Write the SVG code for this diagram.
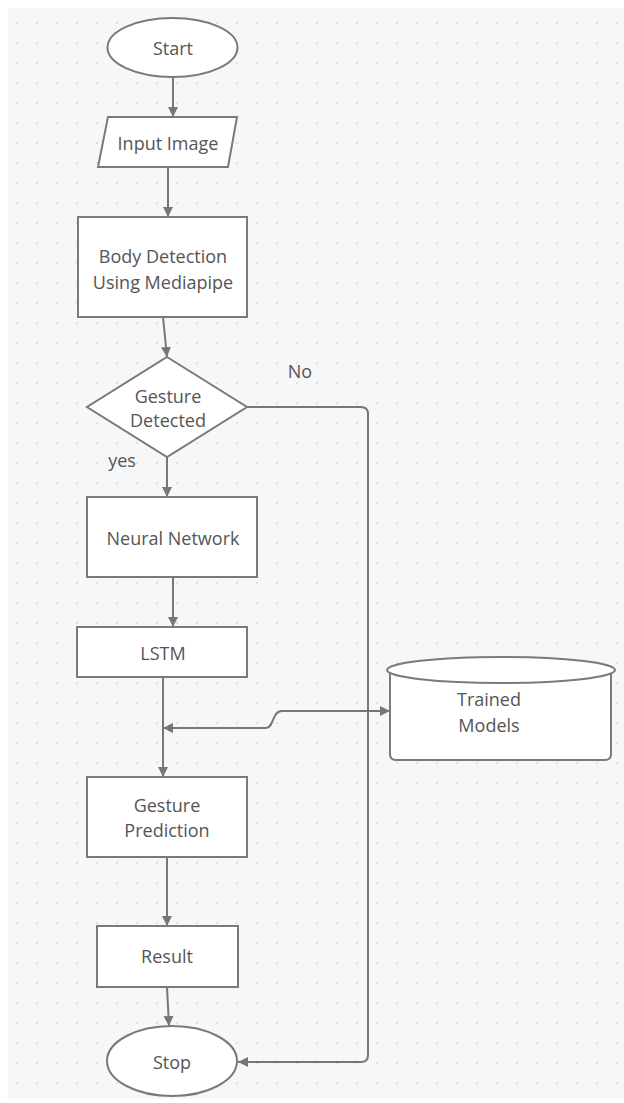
<svg xmlns="http://www.w3.org/2000/svg" width="624" height="1103" viewBox="0 0 624 1103">
<defs>
<pattern id="dots" x="7" y="13" width="20" height="20" patternUnits="userSpaceOnUse">
<circle cx="10" cy="10" r="1.1" fill="#d9dadd"/>
</pattern>
<marker id="ah" viewBox="0 0 10 10" refX="10" refY="5" markerWidth="10" markerHeight="10" markerUnits="userSpaceOnUse" orient="auto-start-reverse">
<path d="M0,0 L10,5 L0,10 z" fill="#767676"/>
</marker>
<style>
.sh{fill:#ffffff;stroke:#7a7a7a;stroke-width:2}
.ln{fill:none;stroke:#777777;stroke-width:2}
.t{font-family:"Open Sans","DejaVu Sans",sans-serif;font-size:18px;fill:#555555;text-anchor:middle}
</style>
</defs>
<rect x="0" y="0" width="624" height="1103" fill="#ffffff"/>
<rect x="8" y="8" width="616" height="1091" fill="#f6f7f9"/>
<rect x="8" y="8" width="616" height="1091" fill="url(#dots)"/>

<g id="connectors">
<path class="ln" d="M173,77 V117" marker-end="url(#ah)"/>
<path class="ln" d="M168,167 V217" marker-end="url(#ah)"/>
<path class="ln" d="M163,317 L167,357" marker-end="url(#ah)"/>
<path class="ln" d="M167,457 V497" marker-end="url(#ah)"/>
<path class="ln" d="M173,577 V627" marker-end="url(#ah)"/>
<path class="ln" d="M163,677 V777" marker-end="url(#ah)"/>
<path class="ln" d="M167,857 V926" marker-end="url(#ah)"/>
<path class="ln" d="M167,987 L169,1026" marker-end="url(#ah)"/>
<path class="ln" d="M247,407 H361 Q368,407 368,414 V1055 Q368,1062 361,1062 H238" marker-end="url(#ah)"/>
<path class="ln" d="M163,728 H266 C274,728 272,711 282,711 H390" marker-start="url(#ah)" marker-end="url(#ah)"/>
</g>

<g id="start">
<ellipse class="sh" cx="172.5" cy="47.5" rx="65" ry="29.5"/>
<text class="t" x="173" y="55">Start</text>
</g>
<g id="input-image">
<polygon class="sh" points="108,117 237,117 228,167 98,167"/>
<text class="t" x="168" y="150">Input Image</text>
</g>
<g id="body-detection">
<rect class="sh" x="78" y="217" width="169" height="100"/>
<text class="t" x="163" y="263">Body Detection</text>
<text class="t" x="163" y="289">Using Mediapipe</text>
</g>
<g id="gesture-detected">
<polygon class="sh" points="167,357 247,407 167,457 87,407"/>
<text class="t" x="168" y="403">Gesture</text>
<text class="t" x="168" y="427">Detected</text>
</g>
<g id="label-no"><text class="t" x="300" y="378">No</text></g>
<g id="label-yes"><text class="t" x="122" y="467">yes</text></g>
<g id="neural-network">
<rect class="sh" x="87" y="497" width="170" height="80"/>
<text class="t" x="173" y="545">Neural Network</text>
</g>
<g id="lstm">
<rect class="sh" x="77" y="627" width="170" height="50"/>
<text class="t" x="163" y="660">LSTM</text>
</g>
<g id="trained-models">
<path class="sh" d="M390,670 V754 Q390,760 396,760 H605 Q611,760 611,754 V670"/>
<ellipse class="sh" cx="501" cy="670" rx="114" ry="13"/>
<text class="t" x="489" y="706">Trained</text>
<text class="t" x="489" y="732">Models</text>
</g>
<g id="gesture-prediction">
<rect class="sh" x="87" y="777" width="160" height="80"/>
<text class="t" x="167" y="812">Gesture</text>
<text class="t" x="167" y="837">Prediction</text>
</g>
<g id="result">
<rect class="sh" x="97" y="926" width="141" height="61"/>
<text class="t" x="167" y="963">Result</text>
</g>
<g id="stop">
<ellipse class="sh" cx="172" cy="1061" rx="65" ry="35"/>
<text class="t" x="172" y="1069">Stop</text>
</g>
</svg>
